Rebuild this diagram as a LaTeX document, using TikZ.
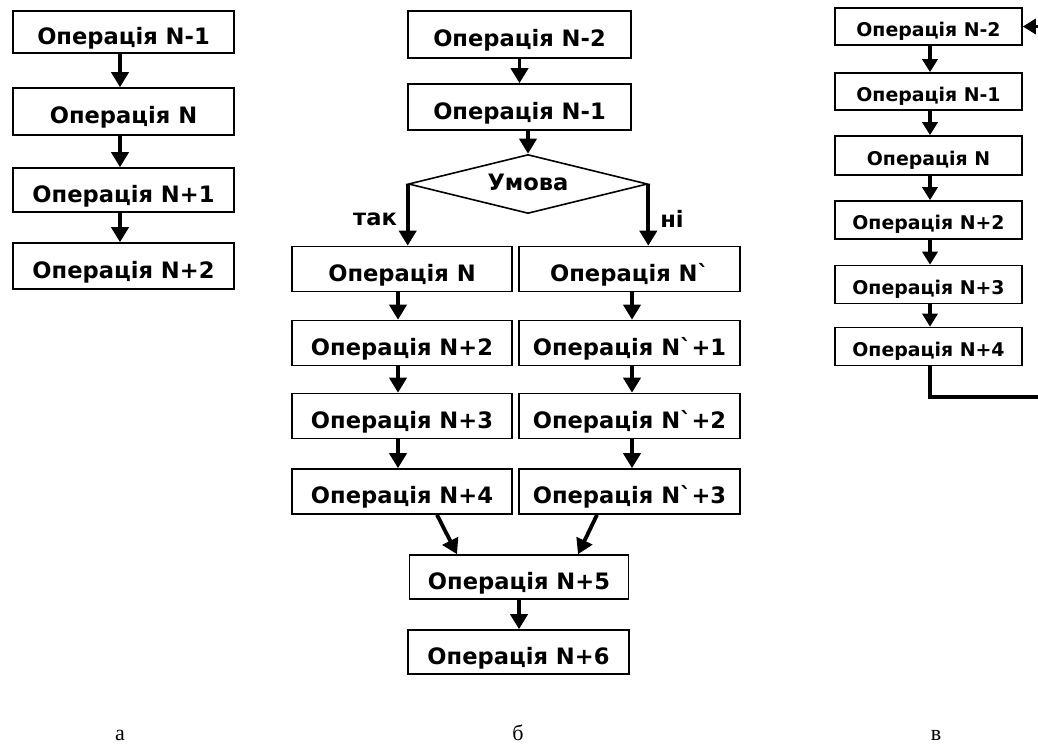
\documentclass[tikz,border=0pt]{standalone}
\usepackage{fontspec}
\setmainfont{DejaVu Sans}[Ligatures=TeXOff]
\newfontfamily\serifl{Liberation Serif}
\usetikzlibrary{arrows.meta,shapes.geometric}
\begin{document}
\begin{tikzpicture}[x=1pt,y=-1pt,
  opbox/.style={draw, line width=1.6pt, inner sep=0pt, font=\fontsize{22.6}{22.6}\selectfont\bfseries, text height=24.5pt, text depth=0pt, minimum width=221pt, minimum height=45pt},
  opsmall/.style={opbox, font=\fontsize{18.9}{18.9}\selectfont\bfseries, text height=19.8pt, minimum width=187pt, minimum height=38pt},
  flow/.style={line width=3.8pt, -{Triangle[length=15pt,width=17pt]}},
  flowsmall/.style={line width=3.2pt, -{Triangle[length=13pt,width=15pt]}},
  lbl/.style={font=\fontsize{22.6}{22.6}\selectfont\bfseries},
  capt/.style={font=\serifl\fontsize{22}{22}\selectfont, anchor=base}]
\useasboundingbox (0,0) rectangle (1038,744);
\clip (0,0) rectangle (1038,744);
% column a
\node[opbox, minimum height=42pt] (a1) at (123.5,32) {Операція N-1};
\node[opbox, minimum height=47pt] (a2) at (123.5,111.5) {Операція N};
\node[opbox, minimum height=44pt] (a3) at (123.5,190) {Операція N+1};
\node[opbox, minimum height=46pt] (a4) at (123.5,266) {Операція N+2};
\draw[flow] ([xshift=-3.5pt]a1.south) -- ([xshift=-3.5pt]a2.north);
\draw[flow] ([xshift=-3.5pt]a2.south) -- ([xshift=-3.5pt]a3.north);
\draw[flow] ([xshift=-3.5pt]a3.south) -- ([xshift=-3.5pt]a4.north);
% column b
\node[opbox, minimum width=223pt, minimum height=47pt] (b1) at (519.5,34.5) {Операція N-2};
\node[opbox, minimum width=223pt, minimum height=46pt] (b2) at (519.5,107) {Операція N-1};
\node[diamond, draw, line width=1.6pt, inner sep=0pt, minimum width=239pt, minimum height=59pt, lbl] (d) at (528,184) {};
\node[lbl] (dl) at (528,182) {Умова};
\node[opbox, minimum width=220pt] (l1) at (402,269) {Операція N};
\node[opbox, minimum width=220pt] (l2) at (402,343) {Операція N+2};
\node[opbox, minimum width=220pt] (l3) at (402,416) {Операція N+3};
\node[opbox, minimum width=220pt] (l4) at (402,491.5) {Операція N+4};
\node[opbox] (r1) at (629.5,269) {Операція N`};
\node[opbox] (r2) at (629.5,343) {Операція N`+1};
\node[opbox] (r3) at (629.5,416) {Операція N`+2};
\node[opbox] (r4) at (629.5,491.5) {Операція N`+3};
\node[opbox, minimum width=219pt, minimum height=44pt] (m5) at (519,577) {Операція N+5};
\node[opbox, minimum height=44pt] (m6) at (518.5,652) {Операція N+6};
\node[lbl] (yes) at (375,219) {так};
\node[lbl] (no) at (672,219) {ні};
\draw[flow] (b1.south) -- (b2.north);
\draw[flow] (d.north |- b2.south) -- (d.north);
\draw[flow] (d.west) -- (d.west |- l1.north);
\draw[flow] (d.east) -- (d.east |- r1.north);
\draw[flow] ([xshift=-4pt]l1.south) -- ([xshift=-4pt]l2.north);
\draw[flow] ([xshift=-4pt]l2.south) -- ([xshift=-4pt]l3.north);
\draw[flow] ([xshift=-4pt]l3.south) -- ([xshift=-4pt]l4.north);
\draw[flow] ([xshift=2.5pt]r1.south) -- ([xshift=2.5pt]r2.north);
\draw[flow] ([xshift=2.5pt]r2.south) -- ([xshift=2.5pt]r3.north);
\draw[flow] ([xshift=2.5pt]r3.south) -- ([xshift=2.5pt]r4.north);
\draw[flow] ([xshift=35pt]l4.south) -- ([xshift=-62pt]m5.north);
\draw[flow] ([xshift=-32.5pt]r4.south) -- ([xshift=59pt]m5.north);
\draw[flow] (m5.south) -- (m5.south |- m6.north);
% column c
\node[opsmall, minimum height=37pt] (c1) at (928.5,26.5) {Операція N-2};
\node[opsmall, minimum height=37pt] (c2) at (928.5,91.5) {Операція N-1};
\node[opsmall, minimum height=39pt] (c3) at (928.5,155.5) {Операція N};
\node[opsmall] (c4) at (928.5,220) {Операція N+2};
\node[opsmall] (c5) at (928.5,284.5) {Операція N+3};
\node[opsmall] (c6) at (928.5,346.5) {Операція N+4};
\draw[flowsmall] ([xshift=1.5pt]c1.south) -- ([xshift=1.5pt]c2.north);
\draw[flowsmall] ([xshift=1.5pt]c2.south) -- ([xshift=1.5pt]c3.north);
\draw[flowsmall] ([xshift=1.5pt]c3.south) -- ([xshift=1.5pt]c4.north);
\draw[flowsmall] ([xshift=1.5pt]c4.south) -- ([xshift=1.5pt]c5.north);
\draw[flowsmall] ([xshift=1.5pt]c5.south) -- ([xshift=1.5pt]c6.north);
\coordinate (loopA) at (1050,397);
\coordinate (loopB) at (1050,26.5);
\draw[flowsmall] ([xshift=1.5pt]c6.south) |- (loopA) -- (loopB) -- (c1.east);
% captions
\node[capt] (ca) at (120,740) {а};
\node[capt] (cb) at (518,740) {б};
\node[capt] (cc) at (936,740) {в};
\end{tikzpicture}
\end{document}
